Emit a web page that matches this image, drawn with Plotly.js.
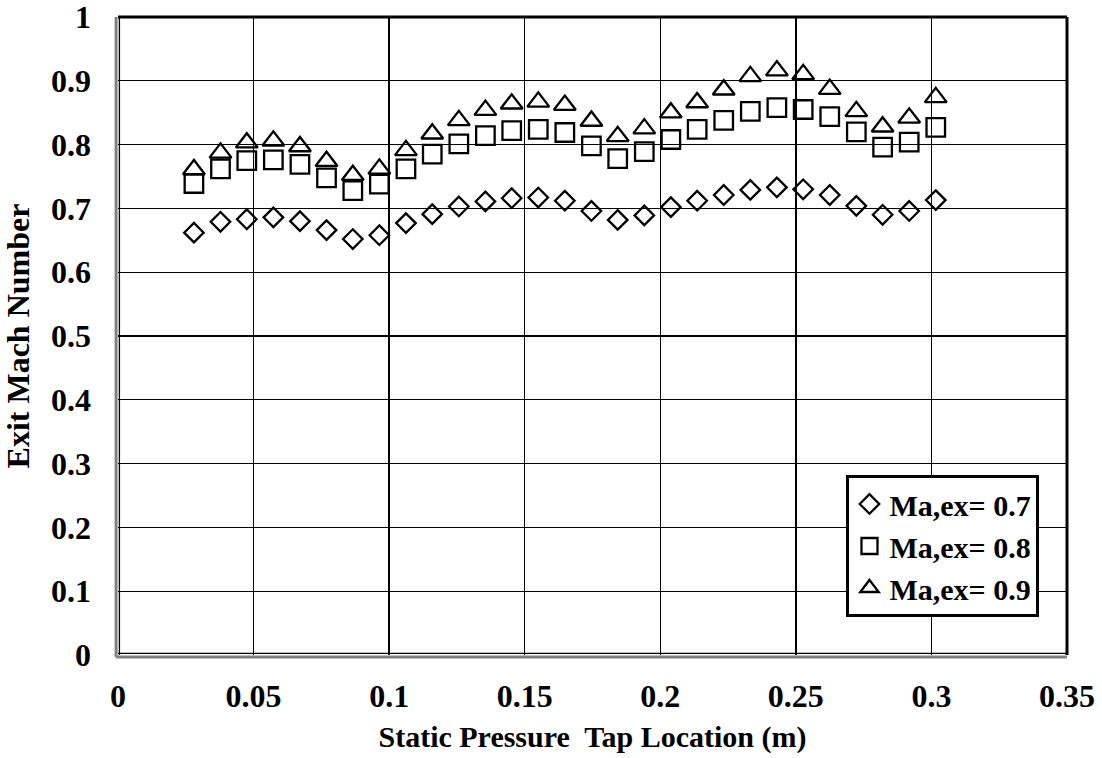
<!DOCTYPE html>
<html>
<head>
<meta charset="utf-8">
<script src="https://cdn.plot.ly/plotly-3.0.1.min.js"></script>
<style>html,body{margin:0;padding:0;background:#fff;}#chart{width:1102px;height:758px;}</style>
</head>
<body>
<div id="chart"></div>
<script>
const xLoc = [0.0280,0.0378,0.0475,0.0573,0.0671,0.0769,0.0866,0.0964,0.1062,0.1159,0.1257,0.1355,0.1452,0.1550,0.1648,0.1746,0.1843,0.1941,0.2039,0.2136,0.2234,0.2332,0.2430,0.2527,0.2625,0.2723,0.2820,0.2918,0.3016];
const ma07 = [0.662,0.679,0.683,0.686,0.680,0.666,0.652,0.658,0.677,0.691,0.703,0.711,0.716,0.717,0.712,0.696,0.682,0.689,0.702,0.712,0.721,0.729,0.733,0.730,0.721,0.704,0.690,0.696,0.713];
const ma08 = [0.739,0.762,0.775,0.776,0.769,0.748,0.728,0.738,0.762,0.785,0.801,0.814,0.822,0.824,0.819,0.798,0.778,0.789,0.808,0.824,0.838,0.852,0.858,0.855,0.844,0.820,0.796,0.804,0.827];
const ma09 = [0.761,0.787,0.803,0.806,0.797,0.774,0.752,0.762,0.791,0.817,0.838,0.854,0.864,0.867,0.862,0.837,0.813,0.825,0.850,0.866,0.886,0.907,0.916,0.910,0.887,0.852,0.828,0.842,0.874];
const seriesNames = ['Ma,ex= 0.7','Ma,ex= 0.8','Ma,ex= 0.9'];
const xTickVals = [0,0.05,0.1,0.15,0.2,0.25,0.3,0.35];
const xTickText = ['0','0.05','0.1','0.15','0.2','0.25','0.3','0.35'];
const yTickVals = [0,0.1,0.2,0.3,0.4,0.5,0.6,0.7,0.8,0.9,1];
const yTickText = ['0','0.1','0.2','0.3','0.4','0.5','0.6','0.7','0.8','0.9','1'];

const serif = 'Liberation Serif, Times New Roman, serif';
const FS = 32;
const mk = (sym, size) => ({symbol: sym, size: size, color: '#000', line: {color: '#000', width: 2.3}});

const traces = [
  {x: xLoc, y: ma07, name: seriesNames[0], mode: 'markers', type: 'scatter', marker: mk('diamond-open', 15)},
  {x: xLoc, y: ma08, name: seriesNames[1], mode: 'markers', type: 'scatter', marker: mk('square-open', 18.5)},
  {x: xLoc, y: ma09, name: seriesNames[2], mode: 'markers', type: 'scatter', marker: mk('triangle-up-open', 19)}
];

const layout = {
  width: 1102, height: 758,
  margin: {l: 117.5, r: 35.3, t: 17, b: 103},
  paper_bgcolor: '#fff', plot_bgcolor: '#fff',
  font: {family: serif, size: FS, color: '#000', weight: 'bold'},
  showlegend: true,
  xaxis: {
    range: [0, 0.35], tickvals: xTickVals, ticktext: xTickText,
    showgrid: true, gridcolor: '#000', gridwidth: 1.3, zeroline: false,
    showline: false, ticks: '', ticklen: 0, ticklabelstandoff: 19, ticklabeloverflow: 'allow',
    tickfont: {family: serif, size: FS, color: '#000', weight: 'bold'},
    title: {text: 'Static Pressure&nbsp; Tap Location (m)', font: {family: serif, size: 30, color: '#000', weight: 'bold'}, standoff: 12}
  },
  yaxis: {
    range: [0, 1], tickvals: yTickVals, ticktext: yTickText,
    showgrid: true, gridcolor: '#000', gridwidth: 1.3, zeroline: false,
    showline: false, ticks: '', ticklen: 0, ticklabelstandoff: 26, ticklabeloverflow: 'allow',
    tickfont: {family: serif, size: FS, color: '#000', weight: 'bold'},
    title: {text: 'Exit Mach Number', font: {family: serif, size: FS, color: '#000', weight: 'bold'}, standoff: 12}
  },
  legend: {
    x: 0.971, xanchor: 'right', y: 0.0596, yanchor: 'bottom',
    bgcolor: '#fff', bordercolor: '#000', borderwidth: 3,
    font: {family: serif, size: 30, color: '#000', weight: 'bold'},
    tracegroupgap: 0, itemwidth: 30
  },
  shapes: [
    {type: 'line', xref: 'paper', yref: 'paper', x0: 0, x1: 1, y0: 1, y1: 1, line: {color: '#000', width: 3}, layer: 'above'},
    {type: 'line', xref: 'paper', yref: 'paper', x0: 1, x1: 1, y0: 0, y1: 1, line: {color: '#000', width: 3}, layer: 'above'},
    {type: 'line', xref: 'paper', yref: 'paper', x0: -0.002, x1: -0.002, y0: -0.003, y1: 1, line: {color: '#808080', width: 3}, layer: 'above'},
    {type: 'line', xref: 'paper', yref: 'paper', x0: -0.002, x1: 1, y0: -0.003, y1: -0.003, line: {color: '#808080', width: 3}, layer: 'above'},
    {type: 'line', xref: 'paper', yref: 'paper', x0: 0.0015, x1: 0.0015, y0: 0, y1: 1, line: {color: '#000', width: 1.3}, layer: 'above'},
    {type: 'line', xref: 'paper', yref: 'paper', x0: 0, x1: 1, y0: 0.0025, y1: 0.0025, line: {color: '#000', width: 1.3}, layer: 'above'}
  ]
};

Plotly.newPlot('chart', traces, layout, {displayModeBar: false, staticPlot: true});
</script>
</body>
</html>
